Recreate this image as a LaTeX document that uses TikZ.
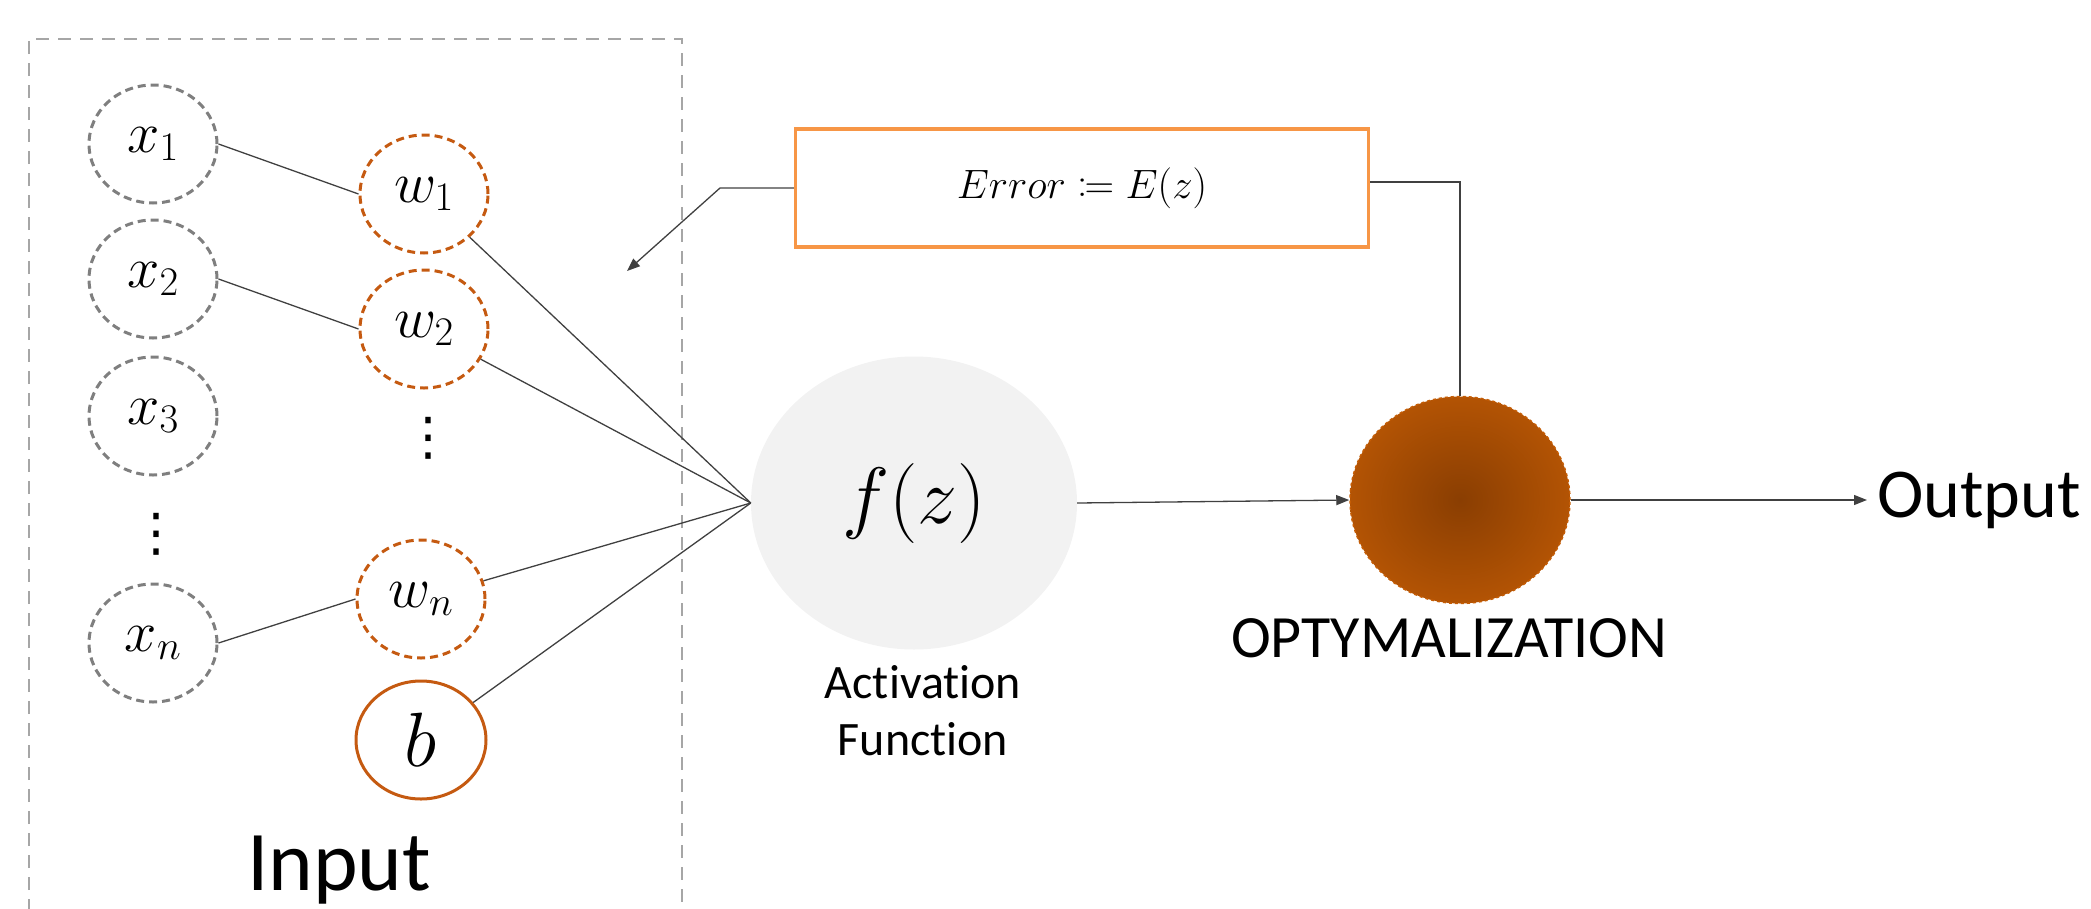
\RequirePackage{fix-cm}
\documentclass[tikz,border=0pt]{standalone}
\usepackage{amsmath}
\usepackage{mathtools}
\usepackage[no-math]{fontspec}
\setmainfont{Carlito}[Ligatures=NoCommon]
\newfontfamily\dejavu{DejaVu Sans}
\usetikzlibrary{shapes.geometric,arrows.meta}
\definecolor{gcirc}{HTML}{7F7F7F}
\definecolor{orng}{HTML}{C55A11}
\definecolor{ebox}{HTML}{F79646}
\definecolor{rectg}{HTML}{A6A6A6}
\definecolor{linec}{HTML}{404040}
\definecolor{ffill}{HTML}{F2F2F2}
\definecolor{optin}{HTML}{8A3E02}
\definecolor{optout}{HTML}{C55D05}
\pgfdeclareradialshading{optshade}{\pgfpoint{0bp}{0bp}}{color(0bp)=(optin); color(36bp)=(optout); color(50bp)=(optout)}
\tikzset{
  xnode/.style={ellipse, draw=gcirc, dash pattern=on 8pt off 5pt, line width=3pt,
    minimum width=128pt, minimum height=118pt, inner sep=0pt, font=\fontsize{58}{64}\selectfont},
  wnode/.style={xnode, draw=orng},
  bnode/.style={ellipse, draw=orng, line width=3pt, minimum width=130pt, minimum height=118pt,
    inner sep=0pt, font=\fontsize{77}{82}\selectfont},
  dotsnode/.style={inner sep=0pt, font=\dejavu\fontsize{52}{56}\selectfont},
  conn/.style={draw=linec, line width=1.3pt},
  arr/.style={conn, -{Triangle[length=13pt,width=10pt]}},
  lbl/.style={inner sep=0pt, text=black}
}
\begin{document}
\begin{tikzpicture}[x=1pt,y=-1pt]
\useasboundingbox (0,0) rectangle (2091,908);
% input frame
\draw[rectg, line width=2.5pt, dash pattern=on 13pt off 9pt] (29,912) -- (29,39) -- (682,39) -- (682,912);
% x nodes
\node[xnode] (x1) at (153,144) {$x_1$};
\node[xnode] (x2) at (153,279) {$x_2$};
\node[xnode] (x3) at (153,416) {$x_3$};
\node[dotsnode] (xd) at (156,534) {⋮};
\node[xnode] (xn) at (153,643) {$x_n$};
% w nodes
\node[wnode] (w1) at (424,194) {$w_1$};
\node[wnode] (w2) at (424,329) {$w_2$};
\node[dotsnode] (wd) at (428,438) {⋮};
\node[wnode] (wn) at (421,599) {$w_n$};
\node[bnode] (b) at (421,740) {$b$};
\node[lbl, anchor=base, font=\fontsize{85}{90}\selectfont] (inp) at (339,890) {Input};
% activation
\node[ellipse, fill=ffill, minimum width=326pt, minimum height=293pt, inner sep=0pt,
  font=\fontsize{80}{86}\selectfont] (f) at (914,503) {$f(z)$};
\node[lbl, anchor=base, font=\fontsize{48}{52}\selectfont] (act1) at (923,698) {Activation};
\node[lbl, anchor=base, font=\fontsize{48}{52}\selectfont] (act2) at (923,755) {Function};
% error box
\node[rectangle, draw=ebox, line width=3.5pt, minimum width=573pt, minimum height=118pt,
  inner sep=0pt, font=\fontsize{41}{46}\selectfont] (err) at (1082,188) {$Error \coloneqq E(z)$};
% optimization
\node[ellipse, shading=optshade, draw=optout, dashed, line width=1.5pt,
  minimum width=220pt, minimum height=207pt, inner sep=0pt] (opt) at (1460,500) {};
\node[lbl, anchor=base, font=\fontsize{60}{64}\selectfont] (optl) at (1449,657) {OPTYMALIZATION};
\node[anchor=west, inner xsep=10pt, inner ysep=0pt, font=\fontsize{70}{76}\selectfont] (out) at (1867,500) {Output};
% connectors
\draw[conn] (x1.east) -- (w1.west);
\draw[conn] (x2.east) -- (w2.west);
\draw[conn] (xn.east) -- (wn.west);
\draw[conn] (w1) -- (f.west);
\draw[conn] (w2) -- (f.west);
\draw[conn] (wn) -- (f.west);
\draw[conn] (b) -- (f.west);
\draw[arr] (f.east) -- (opt.west);
\draw[arr] (opt.east) -- (out.west);
\coordinate (ebend) at (720,188);
\coordinate (etip) at (627,271);
\draw[arr] (err.west) -- (ebend) -- (etip);
\draw[conn] ([yshift=6pt]err.east) -| (opt.north);
\end{tikzpicture}
\end{document}
